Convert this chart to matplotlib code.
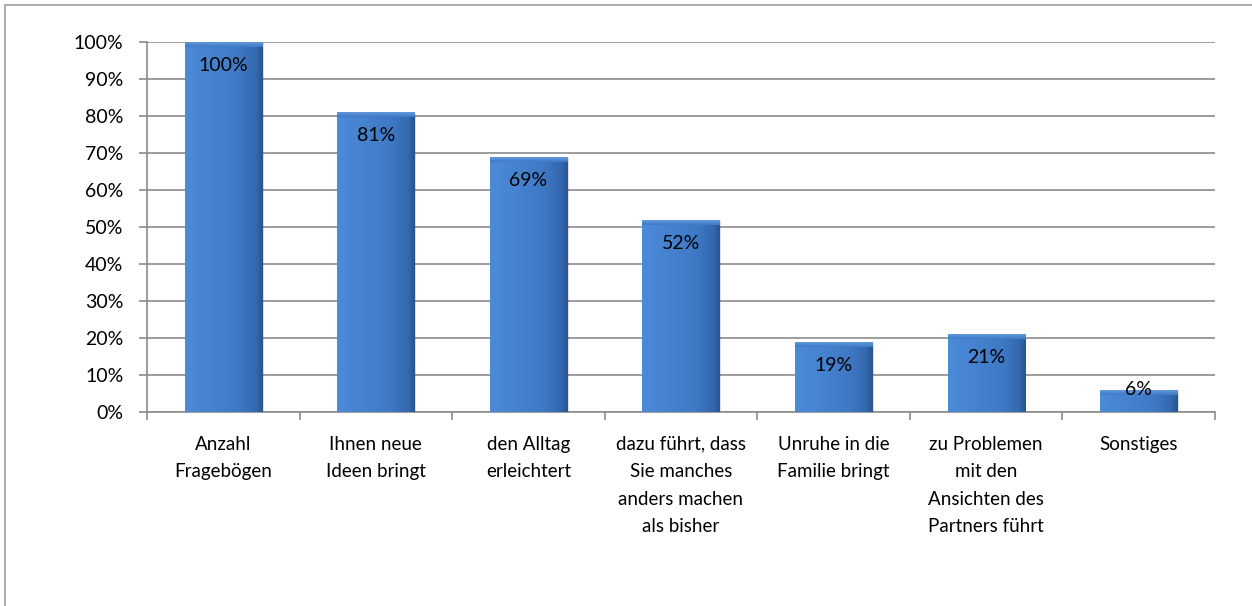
import numpy as np
import matplotlib
matplotlib.use("Agg")
import matplotlib.pyplot as plt
from matplotlib.patches import Rectangle
from matplotlib.colors import LinearSegmentedColormap

# Data
categories = [
    "Anzahl\nFragebögen",
    "Ihnen neue\nIdeen bringt",
    "den Alltag\nerleichtert",
    "dazu führt, dass\nSie manches\nanders machen\nals bisher",
    "Unruhe in die\nFamilie bringt",
    "zu Problemen\nmit den\nAnsichten des\nPartners führt",
    "Sonstiges",
]
values = [1.00, 0.81, 0.69, 0.52, 0.19, 0.21, 0.06]
value_labels = ["100%", "81%", "69%", "52%", "19%", "21%", "6%"]
yticks = [0.0, 0.1, 0.2, 0.3, 0.4, 0.5, 0.6, 0.7, 0.8, 0.9, 1.0]
ytick_labels = ["0%", "10%", "20%", "30%", "40%", "50%", "60%", "70%", "80%", "90%", "100%"]

plt.rcParams["font.family"] = ["Lato", "DejaVu Sans"]

fig = plt.figure(figsize=(12.52, 6.06), dpi=100)
ax = fig.add_axes([147 / 1252, 1 - 412 / 606, (1215 - 147) / 1252, 370 / 606])

# outer chart border (only top/left visible in the reference)
grey_border = "#A6A6A6"
fig.add_artist(plt.Line2D([4.5 / 1252, 4.5 / 1252], [0, 1 - 5 / 606],
                          transform=fig.transFigure, color=grey_border, lw=1.3))
fig.add_artist(plt.Line2D([4.5 / 1252, 1], [1 - 5 / 606, 1 - 5 / 606],
                          transform=fig.transFigure, color=grey_border, lw=1.3))

x = np.arange(len(categories))
width = 0.505
grid_col = "#8C8C8C"

ax.set_ylim(0, 1.0)
ax.set_yticks(yticks)
ax.set_yticklabels(ytick_labels)
ax.yaxis.grid(True, color=grid_col, lw=1.2)
ax.set_axisbelow(True)

for s in ["top", "right"]:
    ax.spines[s].set_visible(False)
for s in ["left", "bottom"]:
    ax.spines[s].set_color(grid_col)
    ax.spines[s].set_linewidth(1.2)

ax.tick_params(axis="y", length=6, width=1.2, color=grid_col, labelsize=14, pad=11)
ax.set_xticks(x)
ax.set_xticklabels(categories, fontsize=13.5, linespacing=1.75, va="top")
ax.tick_params(axis="x", length=0, pad=17)
# category boundary ticks
ax.set_xticks(np.arange(len(categories) + 1) - 0.5, minor=True)
ax.tick_params(axis="x", which="minor", length=6, width=1.2, color=grid_col)

# bevelled blue bars with horizontal gradient
cmap = LinearSegmentedColormap.from_list(
    "bar", [(0.0, "#4C8BD8"), (0.2, "#4886D3"), (0.7, "#3E79C5"),
            (0.92, "#3468AE"), (1.0, "#2A5590")])
grad = np.linspace(0, 1, 128).reshape(1, -1)
top_cmap = LinearSegmentedColormap.from_list("top", ["#3E7AC6", "#6A9FE0"])
top_grad = np.linspace(0, 1, 32).reshape(-1, 1)
for xi, v in zip(x, values):
    # soft shadow
    ax.add_patch(Rectangle((xi - width / 2 + 0.012, -0.004), width, v,
                           facecolor="#000000", alpha=0.13, edgecolor="none", zorder=2))
    bar = ax.bar(xi, v, width=width, color="#3C74BC", edgecolor="none", zorder=3)[0]
    im = ax.imshow(grad, cmap=cmap, aspect="auto",
                   extent=(xi - width / 2, xi + width / 2, 0, v), zorder=3.1)
    im.set_clip_path(bar)
    # top bevel
    top_h = 0.014
    im2 = ax.imshow(top_grad, cmap=top_cmap, aspect="auto", origin="lower",
                    extent=(xi - width / 2, xi + width / 2, v - top_h, v), zorder=3.2)
    im2.set_clip_path(bar)

ax.set_xlim(-0.5, len(categories) - 0.5)
ax.set_ylim(0, 1.0)

for xi, v, lab in zip(x, values, value_labels):
    if v < 0.1:
        ax.text(xi, v, lab, ha="center", va="center", fontsize=14, zorder=5)
    else:
        ax.annotate(lab, (xi, v), xytext=(0, -17), textcoords="offset points",
                    ha="center", va="center", fontsize=14, zorder=5)

fig.savefig("out.png", dpi=100)
